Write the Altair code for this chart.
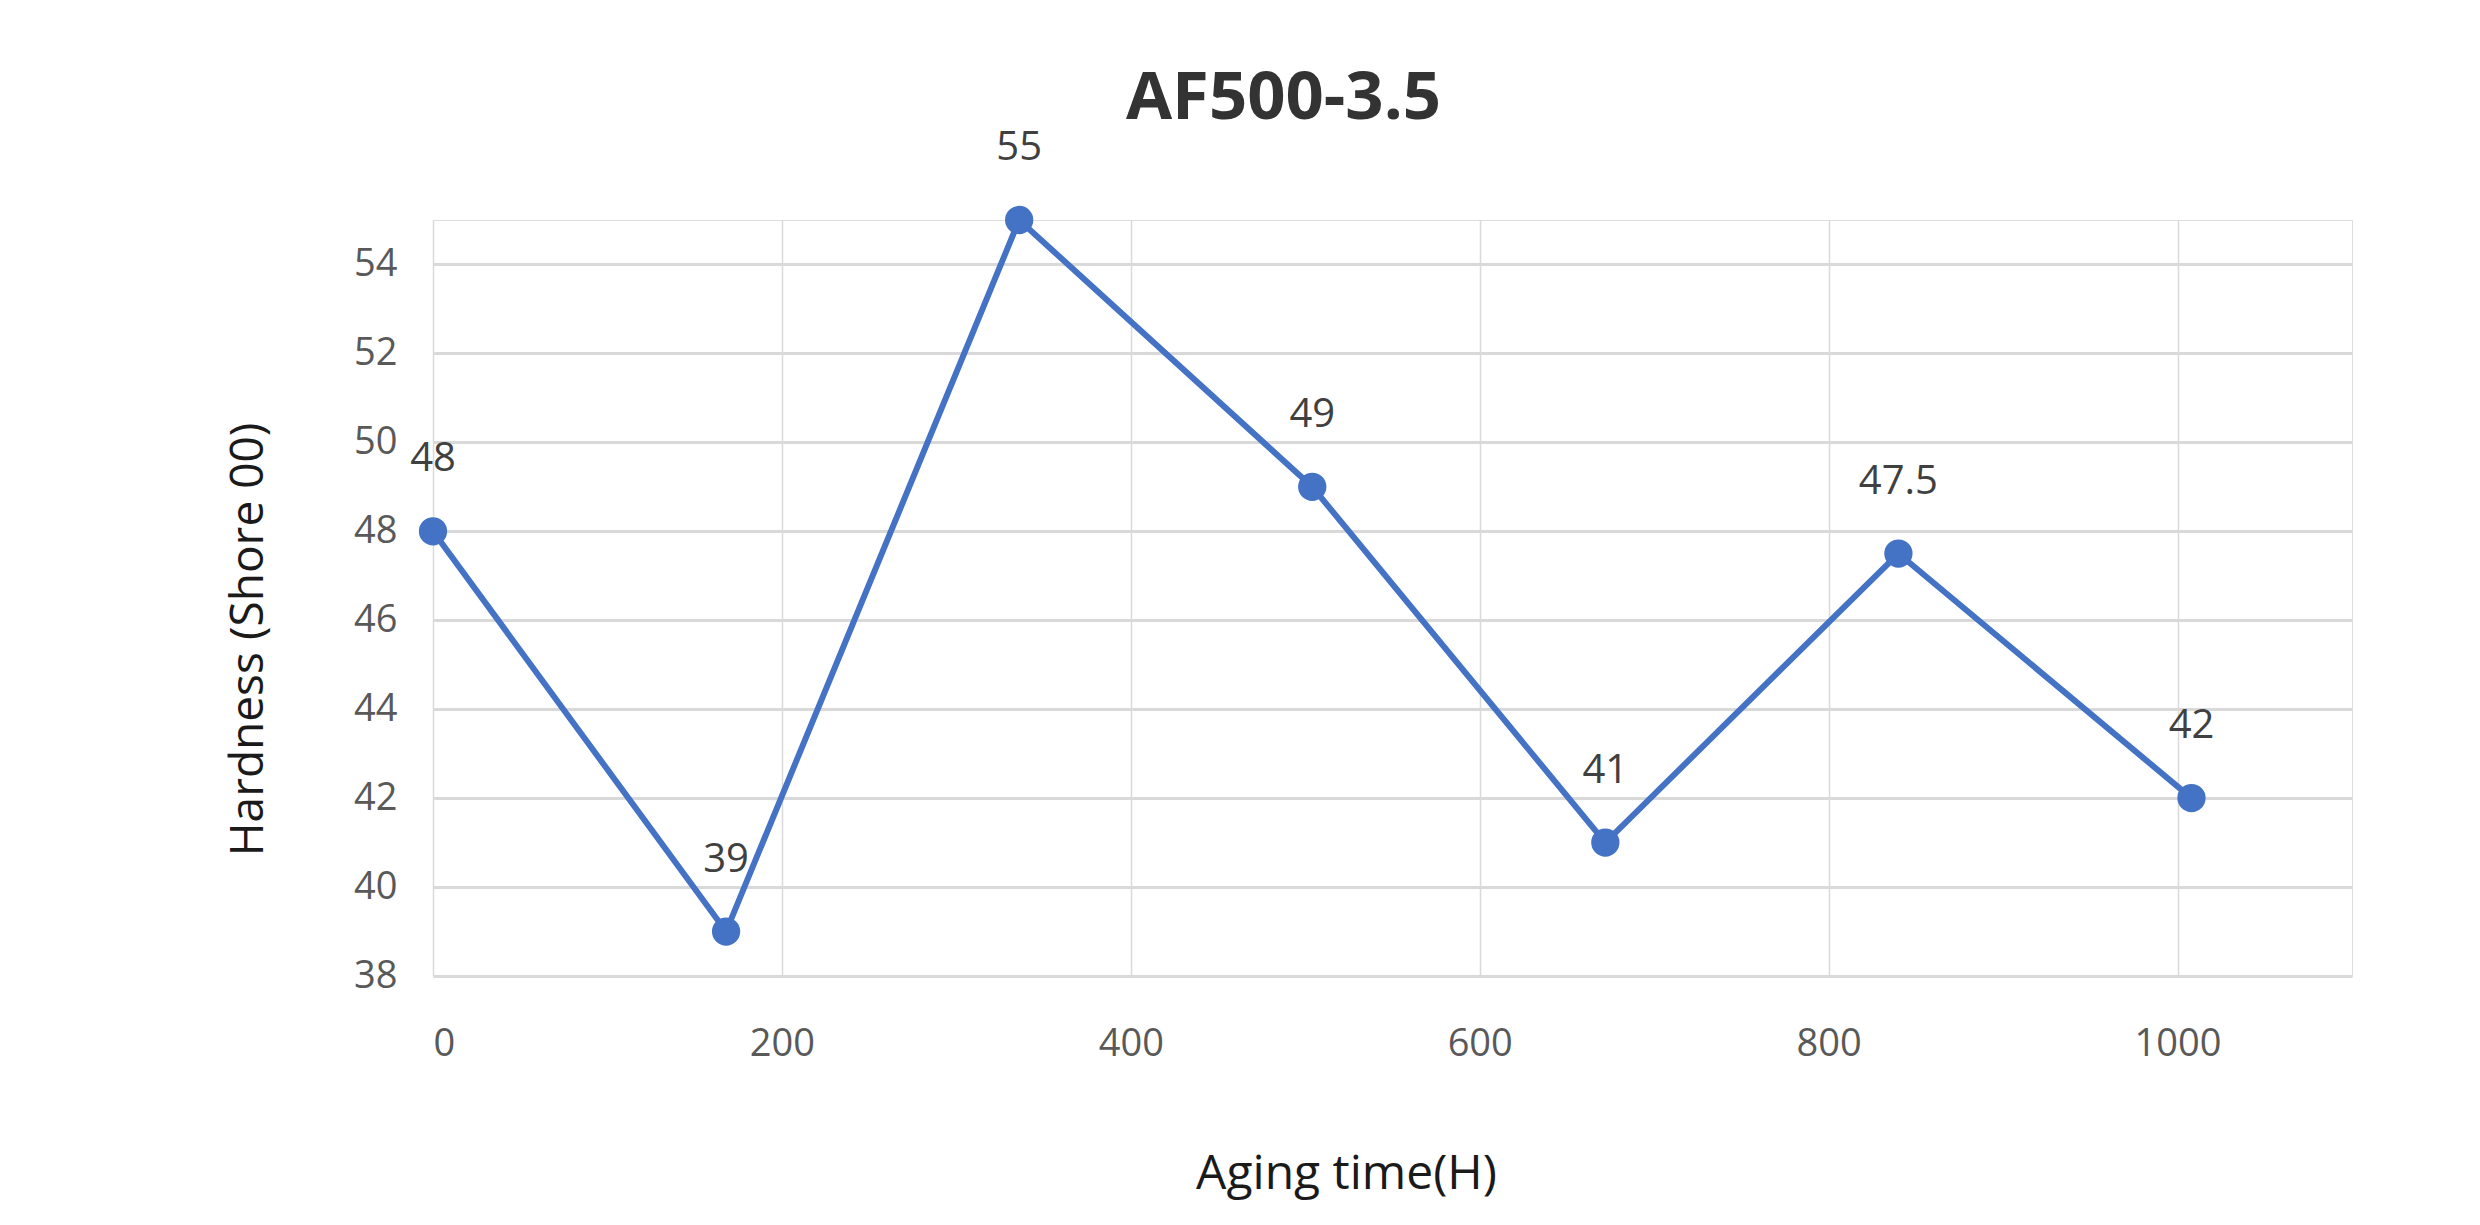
import altair as alt
import pandas as pd

hours = [0, 168, 336, 504, 672, 840, 1008]
hardness = [48, 39, 55, 49, 41, 47.5, 42]
labels = ["48", "39", "55", "49", "41", "47.5", "42"]
x_ticks = [0, 200, 400, 600, 800, 1000]
y_ticks = [38, 40, 42, 44, 46, 48, 50, 52, 54]

df = pd.DataFrame({"hours": hours, "hardness": hardness, "label": labels})

FONT = "Open Sans"
BLUE = "#4472C4"
GRID = "#d9d9d9"

x = alt.X(
    "hours:Q",
    scale=alt.Scale(domain=[0, 1100], nice=False, zero=False),
    axis=alt.Axis(
        values=x_ticks,
        format="d",
        title="Aging time(H)",
        titleFont=FONT,
        titleFontSize=48,
        titleFontWeight="normal",
        titleColor="#1a1a1a",
        titleX=913,
        titleY=198,
        titleBaseline="middle",
        labelFont=FONT,
        labelFontSize=38,
        labelColor="#595959",
        labelBaseline="middle",
        labelPadding=68,
        ticks=False,
        domain=False,
        grid=True,
        gridColor=GRID,
        gridWidth=1.5,
    ),
)
y = alt.Y(
    "hardness:Q",
    scale=alt.Scale(domain=[38, 55], nice=False, zero=False),
    axis=alt.Axis(
        values=y_ticks,
        title="Hardness (Shore 00)",
        titleFont=FONT,
        titleFontSize=46,
        titleFontWeight="normal",
        titleColor="#1a1a1a",
        titleAngle=270,
        titleX=-185,
        titleY=419,
        titleBaseline="middle",
        labelFont=FONT,
        labelFontSize=38,
        labelColor="#595959",
        labelPadding=36,
        ticks=False,
        domain=False,
        grid=True,
        gridColor=GRID,
        gridWidth=3,
    ),
)

base = alt.Chart(df).encode(x=x, y=y)

line = base.mark_line(color=BLUE, strokeWidth=6)
points = base.mark_circle(color=BLUE, size=800, opacity=1)
text = base.mark_text(
    dy=-72, font=FONT, fontSize=40, color="#404040", baseline="middle", align="center"
).encode(text="label:N")

chart = (
    (line + points + text)
    .properties(
        width=1919,
        height=756,
        title=alt.TitleParams(
            "AF500-3.5",
            font=FONT,
            fontSize=67,
            fontWeight="bold",
            color="#333333",
            anchor="middle",
            frame="group",
            baseline="alphabetic",
            offset=-58,
            dx=-109,
        ),
        autosize=alt.AutoSizeParams(type="none"),
        padding={"left": 425, "top": 212, "right": 120, "bottom": 230},
    )
    .configure_view(stroke=GRID, strokeWidth=2.5)
    .configure(background="white")
)

chart.save("out.html", embed_options={"renderer": "svg", "actions": False})
